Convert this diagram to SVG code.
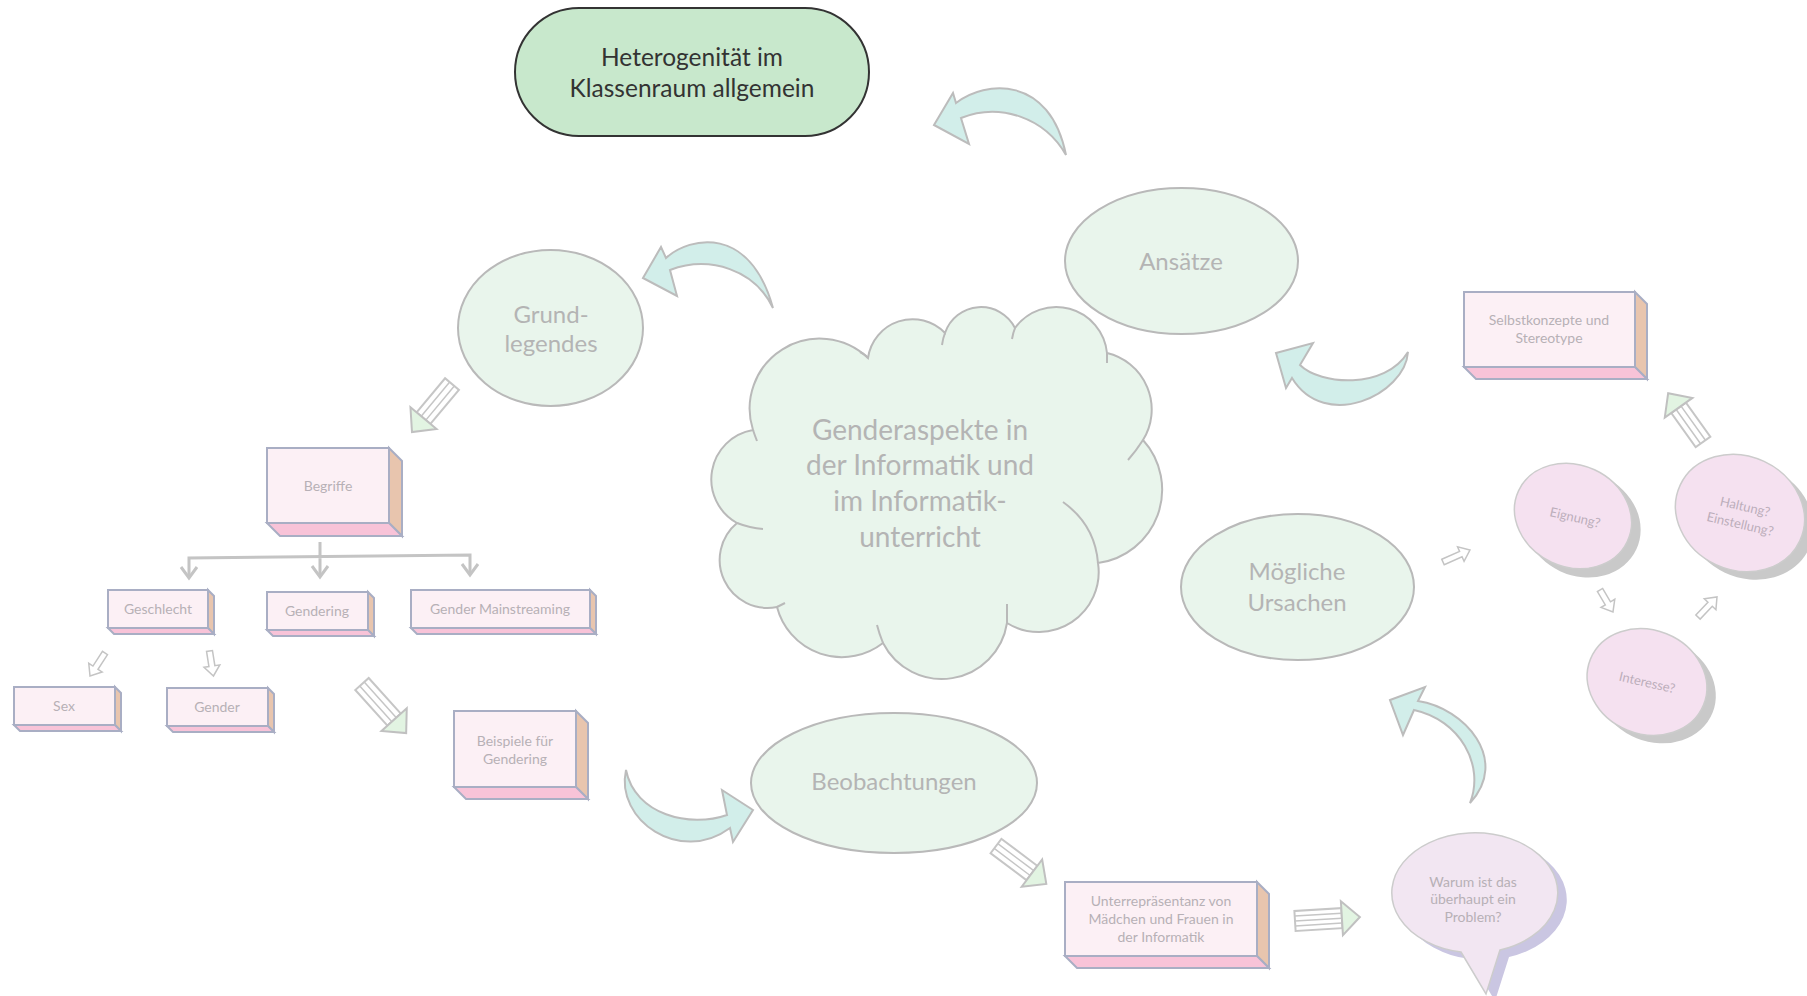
<svg xmlns="http://www.w3.org/2000/svg" width="1807" height="996" viewBox="0 0 1807 996">
<style>
.bg{fill:#ffffff}
.ell{fill:#e9f5ec;stroke:#b9b9b9;stroke-width:2}
.t{font-family:Lato,"Open Sans",sans-serif;text-anchor:middle;fill:#b4b4b4}
.big{font-size:24px}
.small{font-size:14px;fill:#b7b0b6}
.front{fill:#fcf0f5;stroke:#a9aec4;stroke-width:2}
.side{fill:#e8c5ae;stroke:#a9aec4;stroke-width:2}
.bottom{fill:#f8c3d8;stroke:#a9aec4;stroke-width:2}
.curv{fill:#d2eeea;stroke:#bcbcbc;stroke-width:2}
.shaft{fill:#ffffff;stroke:#c6c6c6;stroke-width:2}
.stripe{stroke:#c6c6c6;stroke-width:1.5}
.shead{fill:#e2f4e2;stroke:#c0c0c0;stroke-width:2}
.hollow{fill:#ffffff;stroke:#c4c4c4;stroke-width:1.5}
.tree{fill:none;stroke:#c4c4c4;stroke-width:3}
.pink{fill:#f5e1f0;stroke:#cccccc;stroke-width:1.5}
.shadow{fill:#c9c9c9}
.ctext{font-size:13px;fill:#bcaebb}
</style>
<rect class="bg" x="0" y="0" width="1807" height="996"/>

<g id="connectors">
  <!-- curved block arrows -->
  <path class="curv" d="M934,125 L953,93 L956,103 C985,80 1050,75 1066,155 C1045,118 1000,102 961,118 L969,144 Z"/>
  <path class="curv" d="M643,278 L661,247 L666,258 C690,236 750,225 773,308 C755,270 710,255 670,270 L677,296 Z"/>
  <path class="curv" d="M1276,353 L1313,343 L1300,365 C1320,385 1385,390 1408,352 C1405,395 1325,432 1292,378 L1286,388 Z"/>
  <path class="curv" d="M1390,700 L1425,687 L1418,701 C1465,708 1510,760 1470,803 C1485,765 1460,720 1414,710 L1403,735 Z"/>
  <path class="curv" d="M753,810 L722,790 L727,815 C690,828 635,815 626,770 C615,820 680,865 730,828 L733,842 Z"/>

  <!-- tree from Begriffe -->
  <path class="tree" d="M320,542 V577 M189,578 V558 L470,555 V575"/>
  <path class="tree" stroke-width="2.5" d="M181,567 L189,578 L197,567 M312,566 L320,577 L328,566 M462,564 L470,575 L478,564"/>

  <!-- striped arrows -->
  <g transform="translate(452,384) rotate(129.8)">
    <rect class="shaft" x="0" y="-9" width="44.5" height="18"/>
    <path class="stripe" d="M0,-3 H44.5 M0,3 H44.5"/>
    <polygon class="shead" points="44.5,-17 62.5,0 44.5,17"/>
  </g>
  <g transform="translate(362,684) rotate(48)">
    <rect class="shaft" x="0" y="-9" width="48" height="18"/>
    <path class="stripe" d="M0,-3 H48 M0,3 H48"/>
    <polygon class="shead" points="48,-17 66,0 48,17"/>
  </g>
  <g transform="translate(996,846) rotate(37)">
    <rect class="shaft" x="0" y="-9" width="45" height="18"/>
    <path class="stripe" d="M0,-3 H45 M0,3 H45"/>
    <polygon class="shead" points="45,-17 63,0 45,17"/>
  </g>
  <g transform="translate(1295,921) rotate(-3.5)">
    <rect class="shaft" x="0" y="-10" width="47" height="20"/>
    <path class="stripe" d="M0,-5 H47 M0,0 H47 M0,5 H47"/>
    <polygon class="shead" points="47,-17 65,0 47,17"/>
  </g>
  <g transform="translate(1703,442) rotate(-125.5)">
    <rect class="shaft" x="0" y="-9" width="42" height="18"/>
    <path class="stripe" d="M0,-3 H42 M0,3 H42"/>
    <polygon class="shead" points="42,-17 60,0 42,17"/>
  </g>

  <!-- hollow small arrows -->
  <polygon class="hollow" transform="translate(1443,562) rotate(-24)" points="0,-3 19.5,-3 19.5,-8 29.5,0 19.5,8 19.5,3 0,3"/>
  <polygon class="hollow" transform="translate(1600,590) rotate(59.4)" points="0,-3 15.5,-3 15.5,-8 25.5,0 15.5,8 15.5,3 0,3"/>
  <polygon class="hollow" transform="translate(1698,617) rotate(-46.5)" points="0,-3 17.6,-3 17.6,-8 27.6,0 17.6,8 17.6,3 0,3"/>
  <polygon class="hollow" transform="translate(105,653) rotate(123)" points="0,-3 17.5,-3 17.5,-8 27.5,0 17.5,8 17.5,3 0,3"/>
  <polygon class="hollow" transform="translate(209.5,651) rotate(81)" points="0,-3 15.3,-3 15.3,-8 25.3,0 15.3,8 15.3,3 0,3"/>
</g>

<g id="heterogenitaet">
  <rect x="515" y="8" width="354" height="128" rx="64" ry="64" fill="#c8e8cc" stroke="#333333" stroke-width="2"/>
  <text class="t" x="692" y="66" font-size="24.5" style="fill:#333333">Heterogenität im</text>
  <text class="t" x="692" y="97" font-size="24.5" style="fill:#333333">Klassenraum allgemein</text>
</g>

<g id="grundlegendes">
  <ellipse class="ell" cx="550.5" cy="328" rx="92.5" ry="78"/>
  <text class="t big" x="551" y="323" font-size="25">Grund-</text>
  <text class="t big" x="551" y="352" font-size="25">legendes</text>
</g>

<g id="genderaspekte">
  <path class="ell" d="M737,523 A50,50 0 0 1 753,430 A70,70 0 0 1 868,358 A45,45 0 0 1 945,333 A38,38 0 0 1 1015,328 A51,51 0 0 1 1107,353 A58,58 0 0 1 1143,440 A74,74 0 0 1 1098,563 A60,60 0 0 1 1007,623 A66,66 0 0 1 883,643 A67,67 0 0 1 777,607 A48,48 0 0 1 737,523 Z"/>
  <path fill="none" stroke="#b9b9b9" stroke-width="2" d="M753,430 Q755,436 757,441 M868,358 Q866,355 860,352 M945,333 Q943,338 942,345 M1015,328 Q1013,333 1012,339 M1107,353 V363 M1143,440 Q1136,451 1128,460 M1063,502 Q1095,525 1098,563 M1007,623 V604 M883,643 Q879,633 877,625 M777,607 Q781,605 785,603 M737,523 Q750,528 763,529"/>
  <text class="t" x="920" y="440" font-size="28">Genderaspekte in</text>
  <text class="t" x="920" y="475" font-size="28">der Informatik und</text>
  <text class="t" x="920" y="511" font-size="28">im Informatik-</text>
  <text class="t" x="920" y="547" font-size="28">unterricht</text>
</g>

<g id="ansaetze">
  <ellipse class="ell" cx="1181.5" cy="261" rx="116.5" ry="73"/>
  <text class="t big" x="1181" y="270">Ansätze</text>
</g>

<g id="moegliche-ursachen">
  <ellipse class="ell" cx="1297.5" cy="587" rx="116.5" ry="73"/>
  <text class="t big" x="1297" y="580">Mögliche</text>
  <text class="t big" x="1297" y="611">Ursachen</text>
</g>

<g id="beobachtungen">
  <ellipse class="ell" cx="894" cy="783" rx="143" ry="70"/>
  <text class="t big" x="894" y="790">Beobachtungen</text>
</g>

<g id="begriffe">
  <polygon class="side" points="389,448 402,461 402,536 389,523"/>
  <polygon class="bottom" points="267,523 389,523 402,536 280,536"/>
  <rect class="front" x="267" y="448" width="122" height="75"/>
  <text class="t small" x="328" y="491">Begriffe</text>
</g>

<g id="geschlecht">
  <polygon class="side" points="208,590 214,596 214,634 208,628"/>
  <polygon class="bottom" points="108,628 208,628 214,634 114,634"/>
  <rect class="front" x="108" y="590" width="100" height="38"/>
  <text class="t small" x="158" y="614">Geschlecht</text>
</g>

<g id="gendering">
  <polygon class="side" points="368,592 374,598 374,636 368,630"/>
  <polygon class="bottom" points="267,630 368,630 374,636 273,636"/>
  <rect class="front" x="267" y="592" width="101" height="38"/>
  <text class="t small" x="317" y="616">Gendering</text>
</g>

<g id="gender-mainstreaming">
  <polygon class="side" points="590,590 596,596 596,634 590,628"/>
  <polygon class="bottom" points="411,628 590,628 596,634 417,634"/>
  <rect class="front" x="411" y="590" width="179" height="38"/>
  <text class="t small" x="500" y="614">Gender Mainstreaming</text>
</g>

<g id="sex">
  <polygon class="side" points="115,687 121,693 121,731 115,725"/>
  <polygon class="bottom" points="14,725 115,725 121,731 20,731"/>
  <rect class="front" x="14" y="687" width="101" height="38"/>
  <text class="t small" x="64" y="711">Sex</text>
</g>

<g id="gender">
  <polygon class="side" points="268,688 274,694 274,732 268,726"/>
  <polygon class="bottom" points="167,726 268,726 274,732 173,732"/>
  <rect class="front" x="167" y="688" width="101" height="38"/>
  <text class="t small" x="217" y="712">Gender</text>
</g>

<g id="beispiele">
  <polygon class="side" points="576,711 588,723 588,799 576,787"/>
  <polygon class="bottom" points="454,787 576,787 588,799 466,799"/>
  <rect class="front" x="454" y="711" width="122" height="76"/>
  <text class="t small" x="515" y="746">Beispiele für</text>
  <text class="t small" x="515" y="764">Gendering</text>
</g>

<g id="unterrepraesentanz">
  <polygon class="side" points="1257,882 1269,894 1269,968 1257,956"/>
  <polygon class="bottom" points="1065,956 1257,956 1269,968 1077,968"/>
  <rect class="front" x="1065" y="882" width="192" height="74"/>
  <text class="t small" x="1161" y="906">Unterrepräsentanz von</text>
  <text class="t small" x="1161" y="924">Mädchen und Frauen in</text>
  <text class="t small" x="1161" y="942">der Informatik</text>
</g>

<g id="selbstkonzepte">
  <polygon class="side" points="1635,292 1647,304 1647,379 1635,367"/>
  <polygon class="bottom" points="1464,367 1635,367 1647,379 1476,379"/>
  <rect class="front" x="1464" y="292" width="171" height="75"/>
  <text class="t small" x="1549" y="325">Selbstkonzepte und</text>
  <text class="t small" x="1549" y="343">Stereotype</text>
</g>

<g id="warum">
  <path fill="#cac6e2" transform="translate(9,7)" d="M1461,952 L1486,994 L1500,950 A83,60 0 1 0 1461,952 Z"/>
  <path fill="#f2e6f2" stroke="#cccccc" stroke-width="1.5" d="M1461,952 L1486,994 L1500,950 A83,60 0 1 0 1461,952 Z"/>
  <text class="t small" x="1473" y="887">Warum ist das</text>
  <text class="t small" x="1473" y="904">überhaupt ein</text>
  <text class="t small" x="1473" y="922">Problem?</text>
</g>

<g id="eignung">
  <ellipse class="shadow" cx="1582" cy="524" rx="60" ry="52" transform="rotate(25 1582 524)"/>
  <ellipse class="pink" cx="1573" cy="516" rx="60" ry="51" transform="rotate(25 1573 516)"/>
  <text class="t ctext" x="1575" y="522" transform="rotate(13 1575 518)">Eignung?</text>
</g>

<g id="haltung">
  <ellipse class="shadow" cx="1749" cy="521" rx="66" ry="57" transform="rotate(25 1749 521)"/>
  <ellipse class="pink" cx="1740" cy="513" rx="66" ry="57" transform="rotate(25 1740 513)"/>
  <text class="t ctext" x="1743" y="511" transform="rotate(13 1743 516)">Haltung?</text>
  <text class="t ctext" x="1742" y="529" transform="rotate(13 1743 516)">Einstellung?</text>
</g>

<g id="interesse">
  <ellipse class="shadow" cx="1656" cy="690" rx="61" ry="52" transform="rotate(22 1656 690)"/>
  <ellipse class="pink" cx="1647" cy="682" rx="61" ry="52" transform="rotate(22 1647 682)"/>
  <text class="t ctext" x="1647" y="687" transform="rotate(13 1647 683)">Interesse?</text>
</g>
</svg>
